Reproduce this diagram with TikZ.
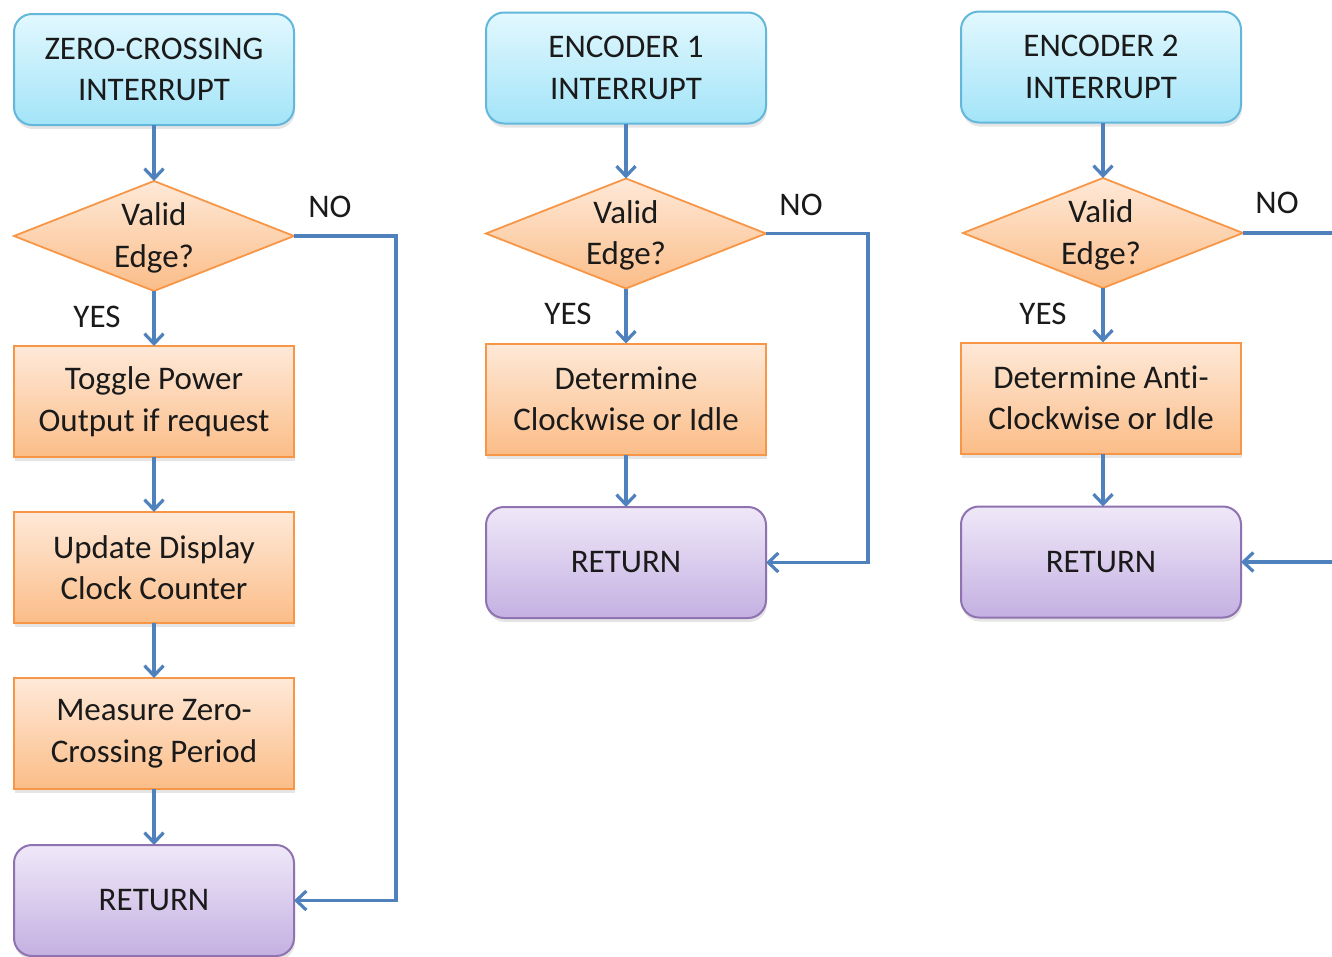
\documentclass[tikz,border=0pt]{standalone}
\usepackage{fontspec}
\setmainfont[Ligatures={NoCommon}]{Carlito}
\usetikzlibrary{arrows.meta,shapes.geometric,shadows}
\definecolor{txt}{HTML}{1A1A1A}
\definecolor{cyT}{HTML}{E2F8FE}
\definecolor{cyB}{HTML}{A3E4F8}
\definecolor{cyD}{HTML}{62B7DA}
\definecolor{orT}{HTML}{FEE9D8}
\definecolor{orB}{HTML}{FBBD88}
\definecolor{orD}{HTML}{F79646}
\definecolor{puT}{HTML}{EFE8F8}
\definecolor{puB}{HTML}{C4B0E2}
\definecolor{puD}{HTML}{8E73B0}
\definecolor{arr}{HTML}{4F81BD}
\tikzset{
  base/.style={minimum width=280pt, minimum height=111pt, inner sep=0pt, outer sep=0pt,
    align=center, text=txt, line width=2pt,
    drop shadow={shadow xshift=1pt, shadow yshift=-4pt, opacity=0.2}},
  startbox/.style={base, rounded corners=18pt, draw=cyD, top color=cyT, bottom color=cyB},
  procbox/.style={base, draw=orD, top color=orT, bottom color=orB},
  retbox/.style={base, rounded corners=18pt, draw=puD, top color=puT, bottom color=puB},
  decbox/.style={diamond, minimum width=280pt, minimum height=110pt, inner sep=0pt, outer sep=0pt,
    shape aspect=2.5, draw=orD, line width=1.8pt, top color=orT, bottom color=orB, text=txt},
  dtext/.style={align=center, text=txt, inner sep=0pt},
  lbl/.style={text=txt, inner sep=0pt},
  flow/.style={draw=arr, line width=3.2pt, -{Straight Barb[length=10pt,width=19pt,line width=3.2pt]}},
  flowline/.style={draw=arr, line width=3.2pt}
}
\begin{document}
\begin{tikzpicture}[x=1pt,y=-1pt, font=\fontsize{33}{41.5}\selectfont]
\useasboundingbox (0,0) rectangle (1332,956);
\fill[white] (0,0) rectangle (1332,956);
% column 1
\node[startbox] (z1) at (154,69.5) {ZERO-CROSSING\\INTERRUPT};
\node[decbox] (d1) at (154,236) {};
\node[dtext] (d1t) at (154,238) {Valid\\Edge?};
\node[procbox] (p1) at (154,401.5) {Toggle Power\\Output if request};
\node[procbox] (p2) at (154,567.5) {Update Display\\Clock Counter};
\node[procbox] (p3) at (154,733.5) {Measure Zero-\\Crossing Period};
\node[retbox] (r1) at (154,900.5) {RETURN};
\node[lbl] (y1) at (97,317) {YES};
\node[lbl] (n1) at (330,207) {NO};
\draw[flow] (z1) -- (d1);
\draw[flow] (d1) -- (p1);
\draw[flow] (p1) -- (p2);
\draw[flow] (p2) -- (p3);
\draw[flow] (p3) -- (r1);
\draw[flow] (d1.east) -- ++(102,0) |- (r1.east);
% column 2
\node[startbox] (z2) at (626,68) {ENCODER 1\\INTERRUPT};
\node[decbox] (d2) at (626,233.5) {};
\node[dtext] (d2t) at (626,235.5) {Valid\\Edge?};
\node[procbox] (q1) at (626,399) {Determine\\Clockwise or Idle};
\node[retbox] (r2) at (626,562.5) {RETURN};
\node[lbl] (y2) at (568,314) {YES};
\node[lbl] (n2) at (801,205) {NO};
\draw[flow] (z2) -- (d2);
\draw[flow] (d2) -- (q1);
\draw[flow] (q1) -- (r2);
\draw[flow] (d2.east) -- ++(102,0) |- (r2.east);
% column 3
\node[startbox] (z3) at (1101,67) {ENCODER 2\\INTERRUPT};
\node[decbox] (d3) at (1103,233) {};
\node[dtext] (d3t) at (1101,235) {Valid\\Edge?};
\node[procbox] (s1) at (1101,398) {Determine Anti-\\Clockwise or Idle};
\node[retbox] (r3) at (1101,562) {RETURN};
\node[lbl] (y3) at (1043,314) {YES};
\node[lbl] (n3) at (1277,203) {NO};
\coordinate (e3) at (1345,233);
\draw[flow] (z3.south -| d3.north) -- (d3.north);
\draw[flow] (d3.south) -- (d3.south |- s1.north);
\draw[flow] (s1.south -| d3.south) -- (d3.south |- r3.north);
\draw[flowline] (d3.east) -- (e3);
\draw[flow] (r3.east -| e3) -- (r3.east);
\end{tikzpicture}
\end{document}
